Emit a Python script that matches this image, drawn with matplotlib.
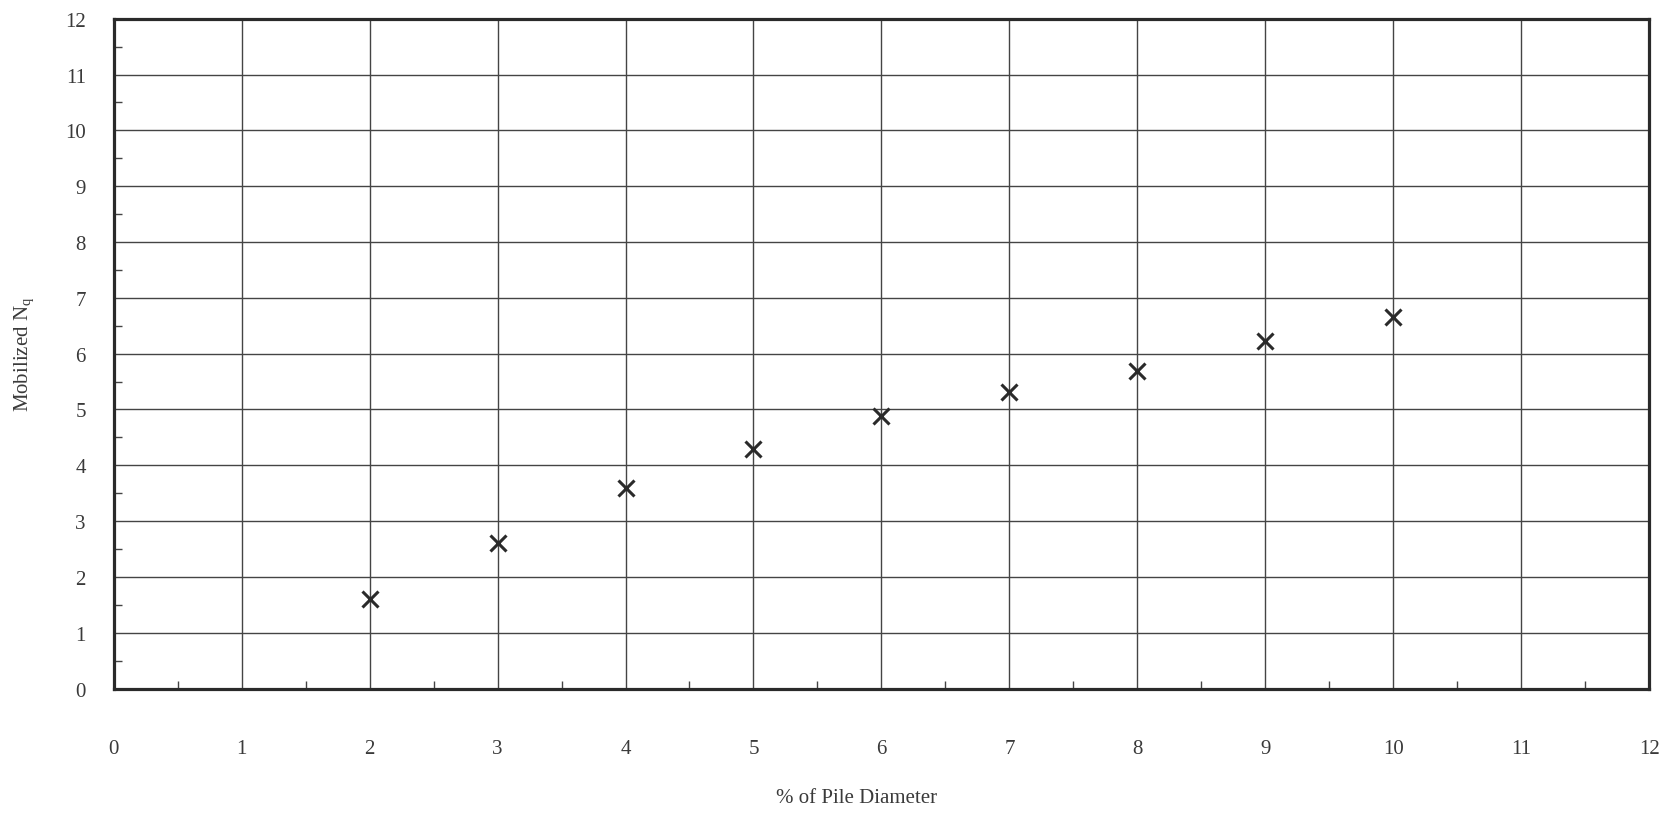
import numpy as np
import matplotlib
matplotlib.use("Agg")
import matplotlib.pyplot as plt
from matplotlib.ticker import MultipleLocator

# --- datos ---
pct_diametro = [2, 3, 4, 5, 6, 7, 8, 9, 10]
nq_movilizado = [1.6, 2.6, 3.6, 4.3, 4.88, 5.32, 5.69, 6.23, 6.66]

x_ticks = list(range(0, 13))
y_ticks = list(range(0, 13))

plt.rcParams["font.family"] = ["Liberation Serif", "DejaVu Serif"]
color_txt = "#3a3a3a"

fig = plt.figure(figsize=(16.71, 8.2), dpi=100)
ax = fig.add_axes([0.068, 0.159, 0.919, 0.817])

ax.plot(pct_diametro, nq_movilizado, linestyle="none", marker="x",
        markersize=12, markeredgewidth=2.2, color="#2a2a2a", zorder=3)

ax.set_xlim(0, 12)
ax.set_ylim(0, 12)
ax.set_xticks(x_ticks)
ax.set_yticks(y_ticks)
ax.xaxis.set_minor_locator(MultipleLocator(0.5))
ax.yaxis.set_minor_locator(MultipleLocator(0.5))

ax.grid(True, which="major", color="#444444", linewidth=1.0)
ax.tick_params(which="major", length=0, labelsize=15, labelcolor=color_txt)
ax.tick_params(axis="x", which="major", pad=36)
ax.tick_params(axis="y", which="major", pad=20)
ax.tick_params(which="minor", direction="in", length=6, width=1, color="#444444")

for s in ax.spines.values():
    s.set_linewidth(2.3)
    s.set_color("#2a2a2a")

# etiqueta x colocada a mano (queda muy abajo en el original)
lbl = ax.set_xlabel("% of Pile Diameter", fontsize=15, color=color_txt)
lbl.set_va("center")
ax.xaxis.set_label_coords(0.484, -0.162)
ax.set_ylabel("Mobilized N$_\\mathregular{q}$", fontsize=15, color=color_txt,
              labelpad=20)

fig.savefig("out.png", dpi=100)
